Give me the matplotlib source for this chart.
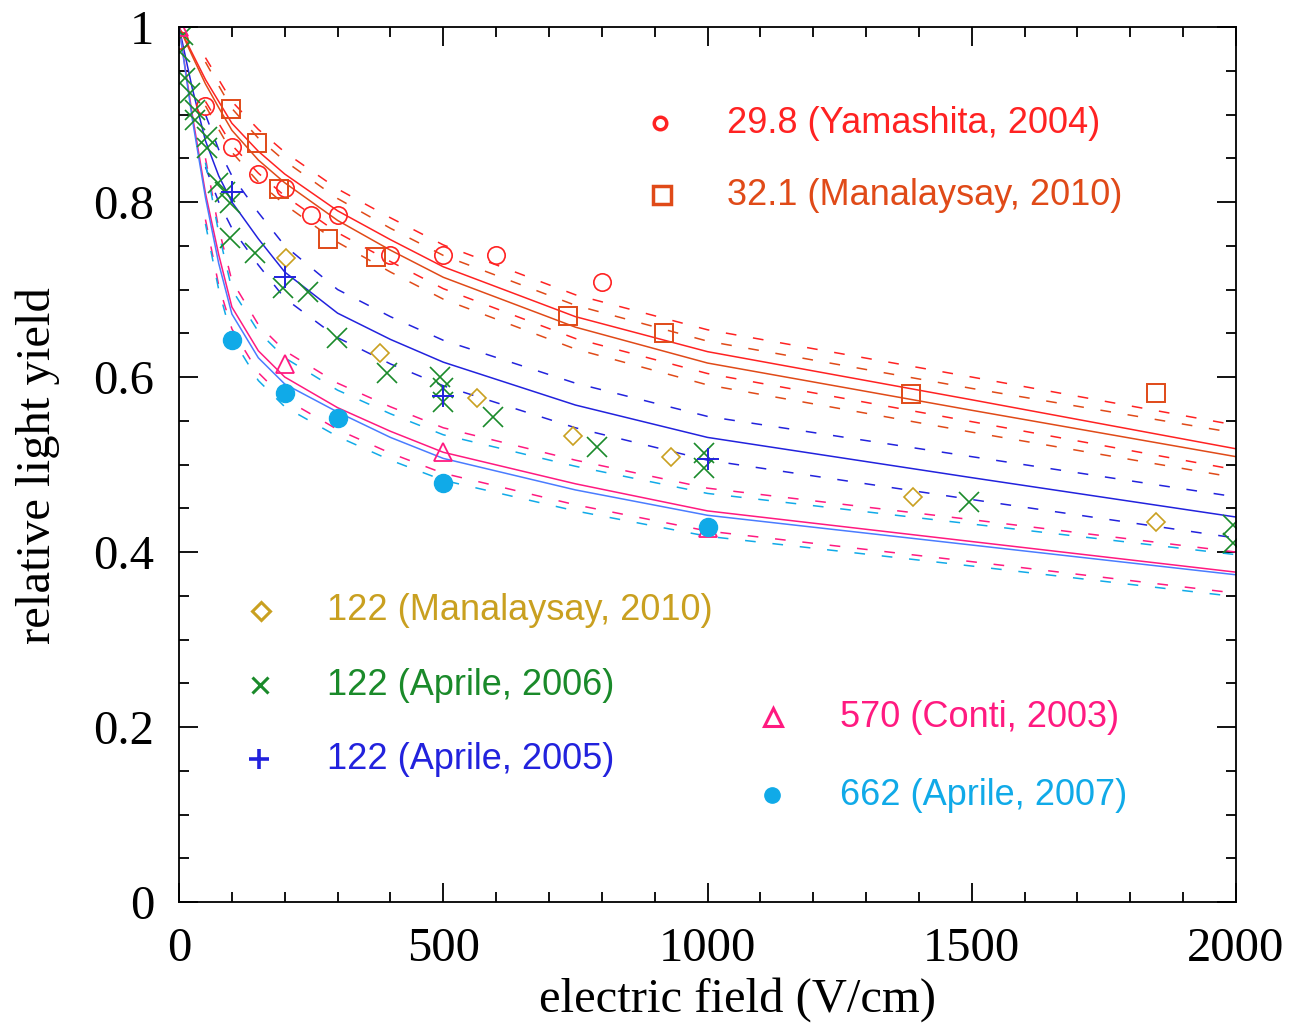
import numpy as np
import matplotlib
matplotlib.use("Agg")
import matplotlib.pyplot as plt
from matplotlib.ticker import MultipleLocator

# ---- model curves (solid) ----
field_model = [0, 25, 50, 75, 100, 150, 200, 300, 400, 500, 750, 1000, 1500, 2000]
ly_298 = [1.0, 0.97, 0.94, 0.915, 0.89, 0.858, 0.832, 0.79, 0.757, 0.726, 0.669, 0.629, 0.574, 0.518]
ly_321 = [1.0, 0.967, 0.935, 0.908, 0.882, 0.848, 0.822, 0.779, 0.745, 0.714, 0.657, 0.616, 0.562, 0.509]
ly_122 = [1.0, 0.93, 0.87, 0.83, 0.80, 0.758, 0.72, 0.673, 0.643, 0.617, 0.568, 0.531, 0.485, 0.44]
ly_570 = [1.0, 0.90, 0.81, 0.74, 0.68, 0.63, 0.60, 0.565, 0.538, 0.514, 0.478, 0.447, 0.412, 0.377]
ly_662 = [1.0, 0.895, 0.805, 0.73, 0.672, 0.622, 0.592, 0.56, 0.531, 0.507, 0.471, 0.442, 0.408, 0.374]

# ---- uncertainty bands (dashed) ----
field_band = [50, 75, 100, 150, 200, 300, 400, 500, 750, 1000, 1500, 2000]
hi_298 = [0.965, 0.94, 0.915, 0.883, 0.857, 0.815, 0.782, 0.751, 0.694, 0.654, 0.600, 0.545]
lo_298 = [0.915, 0.89, 0.865, 0.833, 0.807, 0.765, 0.732, 0.701, 0.644, 0.604, 0.549, 0.494]
hi_321 = [0.96, 0.933, 0.907, 0.873, 0.847, 0.804, 0.770, 0.739, 0.682, 0.641, 0.587, 0.536]
lo_321 = [0.91, 0.883, 0.857, 0.823, 0.797, 0.754, 0.720, 0.689, 0.632, 0.591, 0.537, 0.485]
hi_122 = [0.90, 0.86, 0.83, 0.788, 0.75, 0.70, 0.669, 0.642, 0.593, 0.555, 0.509, 0.463]
lo_122 = [0.84, 0.80, 0.77, 0.728, 0.69, 0.645, 0.615, 0.59, 0.542, 0.505, 0.46, 0.416]
hi_570 = [0.85, 0.77, 0.71, 0.66, 0.63, 0.593, 0.566, 0.542, 0.505, 0.473, 0.437, 0.40]
lo_570 = [0.78, 0.705, 0.655, 0.605, 0.575, 0.54, 0.513, 0.49, 0.454, 0.424, 0.389, 0.353]
hi_662 = [0.845, 0.765, 0.70, 0.652, 0.622, 0.585, 0.558, 0.534, 0.498, 0.467, 0.432, 0.397]
lo_662 = [0.775, 0.70, 0.645, 0.596, 0.566, 0.532, 0.505, 0.482, 0.447, 0.418, 0.384, 0.349]

# ---- measurements ----
yama_x = [0, 50, 100, 150, 200, 250, 300, 400, 500, 600, 800]
yama_y = [0.985, 0.91, 0.863, 0.832, 0.816, 0.785, 0.785, 0.739, 0.739, 0.739, 0.709]

mana32_x = [99, 148, 190, 281, 372, 736, 918, 1385, 1849]
mana32_y = [0.906, 0.867, 0.815, 0.758, 0.737, 0.670, 0.650, 0.581, 0.582]

mana122_x = [203, 380, 563, 746, 931, 1389, 1849]
mana122_y = [0.736, 0.627, 0.576, 0.533, 0.509, 0.463, 0.434]

apr06_x = [8, 2, 11, 21, 30, 30, 53, 53, 74, 87, 96, 96, 144, 197, 244, 299, 393,
           494, 500, 500, 594, 791, 994, 994, 1495, 1994, 1994]
apr06_y = [0.991, 0.971, 0.942, 0.925, 0.905, 0.894, 0.874, 0.862, 0.822, 0.811, 0.799,
           0.759, 0.742, 0.702, 0.697, 0.645, 0.605, 0.600, 0.588, 0.571, 0.554, 0.520,
           0.513, 0.496, 0.457, 0.431, 0.410]

apr05_x = [0, 100, 200, 500, 1000]
apr05_y = [1.0, 0.811, 0.714, 0.578, 0.506]

conti_x = [0, 200, 500, 1000]
conti_y = [1.0, 0.615, 0.514, 0.427]

apr07_x = [100, 200, 300, 500, 1000]
apr07_y = [0.642, 0.582, 0.553, 0.479, 0.429]

labels = ["29.8 (Yamashita, 2004)", "32.1 (Manalaysay, 2010)", "122 (Manalaysay, 2010)",
          "122 (Aprile, 2006)", "122 (Aprile, 2005)", "570 (Conti, 2003)", "662 (Aprile, 2007)"]

RED = "#ff2222"
ORANGE = "#e04a18"
GOLD = "#c9a020"
GREEN = "#1a8a2a"
BLUE = "#2222dd"
PINK = "#ff1a80"
CYAN = "#10aae8"
AZURE = "#4a7cff"

plt.rcParams["font.family"] = ["Liberation Serif", "DejaVu Serif"]

fig = plt.figure(figsize=(12.89, 10.24), dpi=100)
ax = fig.add_axes([0.1389, 0.1191, 0.82, 0.8545])

dash = (0, (7, 11))
lw = 1.1
for y, c in [(ly_298, RED), (ly_321, ORANGE), (ly_122, BLUE), (ly_570, PINK), (ly_662, AZURE)]:
    ax.plot(field_model, y, color=c, lw=lw)
for y, c in [(hi_298, RED), (lo_298, RED), (hi_321, ORANGE), (lo_321, ORANGE),
             (hi_122, BLUE), (lo_122, BLUE), (hi_570, PINK), (lo_570, PINK),
             (hi_662, CYAN), (lo_662, CYAN)]:
    ax.plot(field_band, y, color=c, lw=lw, linestyle=dash)

ax.plot(yama_x, yama_y, "o", ms=12.5, mfc="none", mec=RED, mew=1.2)
ax.plot(mana32_x, mana32_y, "s", ms=13, mfc="none", mec=ORANGE, mew=1.4)
ax.plot(mana122_x, mana122_y, "D", ms=9.5, mfc="none", mec=GOLD, mew=1.2)
ax.plot(apr06_x, apr06_y, "x", ms=14.5, color=GREEN, mew=1.2)
ax.plot(apr05_x, apr05_y, "+", ms=16, color=BLUE, mew=1.4)
ax.plot(conti_x, conti_y, "^", ms=13, mfc="none", mec=PINK, mew=1.3)
ax.plot(apr07_x, apr07_y, "o", ms=13, color=CYAN, mec=CYAN)

# in-plot legend
legend_items = [
    (910, 0.890, 1037, "o", dict(ms=9, mfc="none", mec=RED, mew=2.5), RED),
    (914, 0.808, 1037, "s", dict(ms=13, mfc="none", mec=ORANGE, mew=2.5), ORANGE),
    (155, 0.333, 280, "D", dict(ms=9, mfc="none", mec=GOLD, mew=2.2), GOLD),
    (153, 0.248, 280, "x", dict(ms=12, color=GREEN, mew=2.2), GREEN),
    (151, 0.163, 280, "+", dict(ms=14, color=BLUE, mew=2.6), BLUE),
    (1124, 0.211, 1251, "^", dict(ms=13, mfc="none", mec=PINK, mew=2.2), PINK),
    (1122, 0.122, 1251, "o", dict(ms=11, color=CYAN, mec=CYAN), CYAN),
]
for (mx, my, tx, mk, kw, col), lab in zip(legend_items, labels):
    ax.plot([mx], [my], mk, linestyle="none", **kw)
    ax.text(tx, my, lab, color=col, fontsize=26, va="center", ha="left",
            family=["Liberation Sans", "DejaVu Sans"])

ax.set_xlim(0, 2000)
ax.set_ylim(0, 1)
ax.xaxis.set_major_locator(MultipleLocator(500))
ax.xaxis.set_minor_locator(MultipleLocator(100))
ax.yaxis.set_major_locator(MultipleLocator(0.2))
ax.yaxis.set_minor_locator(MultipleLocator(0.05))
ax.set_yticks([0, 0.2, 0.4, 0.6, 0.8, 1.0])
ax.set_yticklabels(["0", "0.2", "0.4", "0.6", "0.8", "1"])
ax.tick_params(which="both", direction="in", top=True, right=True, width=1.3)
ax.tick_params(which="major", length=14, labelsize=35, pad=18)
ax.tick_params(which="minor", length=7)
for s in ax.spines.values():
    s.set_linewidth(1.3)

ax.set_xlabel("electric field (V/cm)", fontsize=35)
ax.set_ylabel("relative light yield", fontsize=35)
ax.xaxis.set_label_coords(0.528, -0.112)
ax.xaxis.label.set_va("center")
ax.yaxis.set_label_coords(-0.134, 0.499)
ax.yaxis.label.set_va("center")

fig.savefig("out.png", dpi=100)
